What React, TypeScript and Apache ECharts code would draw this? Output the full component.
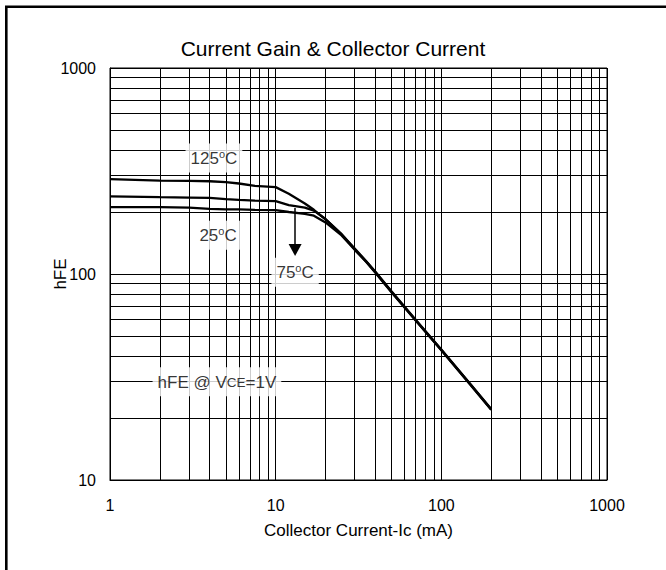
import React, { useEffect, useRef } from "react";
import * as echarts from "echarts";

const FONT = "'Liberation Sans', Arial, sans-serif";

const titleText = "Current Gain & Collector Current";
const xAxisName = "Collector Current-Ic (mA)";
const yAxisName = "hFE";

// Collector current (mA)
const currents = [1, 2, 3, 4, 5, 6, 7.5, 10, 12, 15, 17, 20, 25, 30, 35, 40, 50, 70, 100, 150, 200];
// hFE at 125°C
const hfe125 = [289, 284, 283, 282, 279, 275, 268, 264, 245, 220, 205, 184, 156, 133, 116, 102.5, 82.5, 60, 43, 29.2, 22.1];
// hFE at 75°C
const hfe75 = [238, 236, 235, 234, 231, 229, 227, 226, 216, 210, 203, 185, 156, 132, 115.5, 102, 82, 59.7, 42.8, 29.1, 22];
// hFE at 25°C
const hfe25 = [211, 211, 210, 207, 206, 206, 205, 204, 200, 196, 192, 178, 154, 131, 115, 101.5, 81.5, 59.4, 42.6, 28.9, 21.9];

const xTicks = [1, 10, 100, 1000];
const yTicks = [10, 100, 1000];
const xMinorGrid = [2, 3, 4, 5, 6, 7, 8, 9, 20, 30, 40, 50, 60, 70, 80, 90, 200, 300, 400, 500, 600, 700, 800, 900];
const yMinorGrid = [20, 30, 40, 50, 60, 70, 80, 90, 200, 300, 400, 500, 600, 700, 800, 900];

const zip = (xs: number[], ys: number[]) => xs.map((x, i) => [x, ys[i]]);

export default function App() {
  const ref = useRef<HTMLDivElement>(null);

  useEffect(() => {
    if (!ref.current) return;
    const chart = echarts.init(ref.current, null, { renderer: "svg" });

    const rich = {
      n: { fontSize: 17, fontFamily: FONT, color: "#000", lineHeight: 20 },
      s: { fontSize: 11, fontFamily: FONT, color: "#000", verticalAlign: "top", lineHeight: 9 },
      c: { fontSize: 13.5, fontFamily: FONT, color: "#000", lineHeight: 20 },
    };

    const annotations = [
      { text: "{n|125}{s|o}{n|C}", coord: [4.24, 366] },
      { text: "{n|25}{s|o}{n|C}", coord: [4.49, 154] },
      { text: "{n|75}{s|o}{n|C}", coord: [13.1, 102] },
      { text: "{n|hFE @ V}{c|CE}{n|=1V}", coord: [4.42, 30] },
    ];

    const curveStyle = { color: "#000", width: 2.3 };
    const curve = (name: string, ys: number[]) => ({
      name,
      type: "line",
      data: zip(currents, ys),
      showSymbol: false,
      symbol: "none",
      smooth: false,
      lineStyle: curveStyle,
      z: 4,
      silent: true,
    });

    const option = {
      animation: false,
      backgroundColor: "#fff",
      title: {
        text: titleText,
        left: "center",
        top: 38,
        padding: 0,
        textStyle: { fontFamily: FONT, fontSize: 21, fontWeight: "normal", color: "#000" },
      },
      graphic: [
        {
          type: "rect",
          shape: { x: 6.3, y: 6.8, width: 720, height: 620 },
          style: { fill: "none", stroke: "#000", lineWidth: 2.6 },
          silent: true,
        },
      ],
      grid: {
        left: 110,
        top: 68,
        right: 59,
        bottom: 90,
        show: true,
        borderColor: "#000",
        borderWidth: 1,
        backgroundColor: "transparent",
      },
      xAxis: {
        type: "log",
        logBase: 10,
        min: xTicks[0],
        max: xTicks[xTicks.length - 1],
        name: xAxisName,
        nameLocation: "middle",
        nameGap: 42,
        nameMoveOverlap: false,
        nameTextStyle: { fontFamily: FONT, fontSize: 17, color: "#000" },
        axisLine: { show: true, lineStyle: { color: "#000", width: 1 } },
        axisTick: { show: false },
        axisLabel: {
          fontFamily: FONT,
          fontSize: 16,
          color: "#000",
          margin: 17,
          formatter: (v: number) => String(Math.round(v)),
        },
        splitLine: { show: true, lineStyle: { color: "#000", width: 1 } },
      },
      yAxis: {
        type: "log",
        logBase: 10,
        min: yTicks[0],
        max: yTicks[yTicks.length - 1],
        name: yAxisName,
        nameLocation: "middle",
        nameGap: 41,
        nameMoveOverlap: false,
        nameTextStyle: { fontFamily: FONT, fontSize: 17, color: "#000" },
        axisLine: { show: true, lineStyle: { color: "#000", width: 1 } },
        axisTick: { show: false },
        axisLabel: {
          fontFamily: FONT,
          fontSize: 16,
          color: "#000",
          margin: 14,
          formatter: (v: number) => String(Math.round(v)),
        },
        splitLine: { show: true, lineStyle: { color: "#000", width: 1 } },
      },
      series: [
        {
          name: "grid-minor",
          type: "line",
          data: [],
          silent: true,
          z: 1,
          markLine: {
            silent: true,
            symbol: ["none", "none"],
            label: { show: false },
            lineStyle: { color: "#000", width: 1, type: "solid" },
            emphasis: { disabled: true },
            data: [
              ...xMinorGrid.map((v) => ({ xAxis: v })),
              ...yMinorGrid.map((v) => ({ yAxis: v })),
            ],
          },
        },
        curve("125°C", hfe125),
        curve("75°C", hfe75),
        curve("25°C", hfe25),
        {
          name: "arrow",
          type: "line",
          data: [],
          silent: true,
          z: 5,
          markLine: {
            silent: true,
            symbol: ["none", "triangle"],
            symbolSize: [13, 12],
            label: { show: false },
            lineStyle: { color: "#000", width: 1.5, type: "solid" },
            emphasis: { disabled: true },
            data: [[{ coord: [13.1, 209] }, { coord: [13.1, 130.8] }]],
          },
        },
        {
          name: "labels",
          type: "scatter",
          symbol: "circle",
          symbolSize: 1,
          itemStyle: { color: "rgba(0,0,0,0)" },
          silent: true,
          z: 10,
          data: annotations.map((a) => ({
            value: a.coord,
            label: {
              show: true,
              position: "inside",
              formatter: a.text,
              backgroundColor: "#fff",
              padding: [5, 5, 4, 5],
              rich,
            },
          })),
        },
      ],
    };

    chart.setOption(option as any);
    return () => chart.dispose();
  }, []);

  return (
    <div
      ref={ref}
      style={{ position: "absolute", left: 0, top: 0, width: 666, height: 570 }}
    />
  );
}
